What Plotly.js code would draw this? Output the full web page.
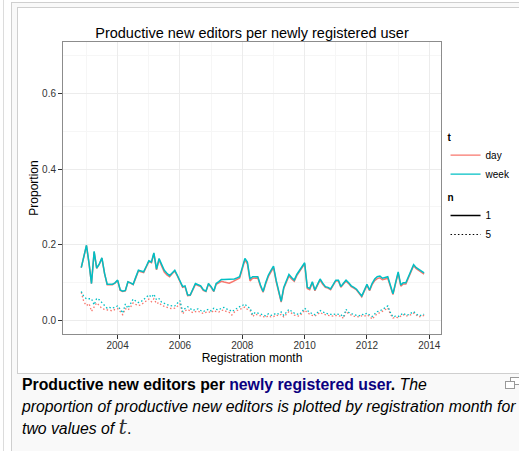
<!DOCTYPE html>
<html>
<head>
<meta charset="utf-8">
<script src="https://cdn.plot.ly/plotly-3.0.1.min.js"></script>
<style>
  html, body { margin: 0; padding: 0; background: #ffffff; width: 519px; height: 451px; overflow: hidden; }
  #pageline { position: absolute; left: 3px; top: 0; width: 1px; height: 451px; background: #dcdcdc; }
  #thumb { position: absolute; left: 11px; top: 2px; width: 560px; height: 470px; border: 1px solid #cfcfcf; background: #f9f9f9; }
  #imgbox { position: absolute; left: 17px; top: 7px; width: 540px; height: 365px; border: 1px solid #cfcfcf; background: #ffffff; }
  #chart { position: absolute; left: 18px; top: 8px; width: 501px; height: 365px; }
  #caption { position: absolute; left: 22px; top: 374px; font-family: "Liberation Sans", Arial, sans-serif; font-size: 15.8px; line-height: 21.5px; color: #000; white-space: nowrap; }
  #caption b { font-weight: bold; }
  #caption a { color: #0b0080; text-decoration: none; font-weight: bold; }
  #caption i { font-style: italic; }
  .mt { font-family: "DejaVu Serif", "Liberation Serif", serif; font-style: italic; font-size: 21px; color: #333; }
  #mag1 { position: absolute; left: 505px; top: 381px; width: 8px; height: 6px; border: 1px solid #999; background: #fff; }
  #mag2 { position: absolute; left: 510px; top: 377px; width: 12px; height: 6px; border: 1px solid #999; background: #fff; }
</style>
</head>
<body>
<div id="pageline"></div>
<div id="thumb"></div>
<div id="imgbox"></div>
<div id="chart"></div>
<div id="mag2"></div>
<div id="mag1"></div>
<div id="caption"><b>Productive new editors per <a>newly registered user</a>.</b> <i>The</i><br><i>proportion of productive new editors is plotted by registration month for</i><br><i>two values of </i><span class="mt">t</span>.</div>
<script>
// Monthly registration cohorts, Nov 2002 .. Nov 2013 (133 months)
const startYear = 2002, startMonth = 11, nMonths = 133;

const weekN1 = [
  0.140,0.170,
  0.199,0.150,0.098,0.183,0.139,0.150,0.166,0.125,0.096,0.096,0.096,0.100,
  0.107,0.081,0.078,0.080,0.103,0.100,0.096,0.115,0.133,0.131,0.129,0.143,
  0.158,0.155,0.179,0.136,0.164,0.148,0.133,0.125,0.119,0.126,0.133,0.120,
  0.107,0.090,0.092,0.068,0.068,0.083,0.098,0.095,0.092,0.082,0.078,0.098,
  0.090,0.078,0.098,0.103,0.109,0.109,0.109,0.109,0.109,0.110,0.113,0.116,
  0.140,0.164,0.155,0.110,0.116,0.116,0.116,0.094,0.077,0.100,0.120,0.132,
  0.144,0.107,0.080,0.051,0.088,0.105,0.122,0.114,0.107,0.122,0.133,0.143,
  0.153,0.088,0.085,0.103,0.081,0.096,0.110,0.099,0.090,0.088,0.084,0.095,
  0.107,0.107,0.090,0.099,0.107,0.100,0.092,0.088,0.083,0.074,0.065,0.080,
  0.096,0.081,0.098,0.110,0.116,0.118,0.112,0.114,0.116,0.094,0.071,0.100,
  0.129,0.094,0.100,0.100,0.115,0.132,0.148,0.140,0.136,0.131,0.126
];

const dayN1 = [
  0.140,0.169,
  0.198,0.149,0.098,0.181,0.138,0.149,0.165,0.124,0.095,0.095,0.095,0.099,
  0.106,0.080,0.077,0.079,0.102,0.099,0.095,0.113,0.131,0.129,0.127,0.141,
  0.156,0.153,0.177,0.134,0.161,0.144,0.128,0.121,0.116,0.124,0.131,0.118,
  0.105,0.088,0.090,0.066,0.067,0.081,0.096,0.093,0.090,0.080,0.077,0.096,
  0.088,0.077,0.096,0.100,0.104,0.102,0.100,0.099,0.102,0.106,0.110,0.113,
  0.136,0.160,0.150,0.105,0.112,0.113,0.113,0.091,0.075,0.097,0.116,0.128,
  0.140,0.103,0.077,0.049,0.085,0.101,0.118,0.110,0.104,0.119,0.130,0.140,
  0.150,0.085,0.082,0.100,0.079,0.094,0.107,0.096,0.088,0.086,0.082,0.093,
  0.105,0.105,0.088,0.097,0.104,0.098,0.090,0.086,0.081,0.072,0.063,0.078,
  0.093,0.079,0.095,0.106,0.111,0.113,0.108,0.110,0.112,0.091,0.069,0.097,
  0.125,0.091,0.097,0.097,0.112,0.128,0.145,0.137,0.133,0.128,0.123
];

const weekN5 = [
  0.077,0.064,
  0.058,0.057,0.058,0.042,0.059,0.055,0.046,0.040,0.033,0.035,0.033,0.036,
  0.039,0.030,0.020,0.044,0.033,0.045,0.057,0.052,0.048,0.050,0.055,0.062,
  0.068,0.062,0.070,0.055,0.058,0.048,0.046,0.042,0.040,0.039,0.039,0.046,
  0.053,0.024,0.032,0.037,0.032,0.027,0.030,0.031,0.027,0.024,0.028,0.030,
  0.026,0.033,0.030,0.029,0.033,0.035,0.031,0.029,0.024,0.029,0.033,0.037,
  0.040,0.044,0.037,0.033,0.016,0.022,0.020,0.017,0.015,0.013,0.018,0.014,
  0.016,0.020,0.018,0.023,0.014,0.022,0.030,0.025,0.020,0.018,0.016,0.024,
  0.033,0.027,0.022,0.018,0.016,0.022,0.027,0.023,0.020,0.018,0.017,0.016,
  0.018,0.017,0.016,0.010,0.030,0.022,0.018,0.016,0.014,0.013,0.017,0.016,
  0.020,0.016,0.011,0.018,0.024,0.026,0.029,0.034,0.039,0.022,0.010,0.012,
  0.011,0.016,0.020,0.015,0.016,0.020,0.024,0.018,0.013,0.015,0.017
];

const dayN5 = [
  0.075,0.050,
  0.040,0.045,0.025,0.035,0.047,0.040,0.032,0.030,0.028,0.027,0.026,0.030,
  0.032,0.024,0.016,0.032,0.028,0.036,0.047,0.043,0.040,0.042,0.046,0.052,
  0.057,0.050,0.058,0.045,0.048,0.040,0.038,0.035,0.033,0.032,0.033,0.038,
  0.044,0.018,0.026,0.030,0.026,0.021,0.024,0.025,0.022,0.019,0.022,0.024,
  0.021,0.027,0.024,0.023,0.027,0.028,0.024,0.022,0.015,0.023,0.027,0.030,
  0.032,0.036,0.030,0.027,0.011,0.017,0.015,0.013,0.011,0.009,0.013,0.010,
  0.011,0.015,0.013,0.017,0.010,0.016,0.024,0.020,0.015,0.013,0.012,0.019,
  0.028,0.022,0.017,0.014,0.012,0.017,0.022,0.018,0.015,0.014,0.013,0.012,
  0.014,0.013,0.012,0.006,0.025,0.018,0.014,0.012,0.011,0.010,0.013,0.012,
  0.015,0.012,0.004,0.013,0.019,0.021,0.024,0.029,0.034,0.018,0.007,0.009,
  0.008,0.012,0.016,0.012,0.013,0.016,0.020,0.014,0.010,0.012,0.014
];

const tLabels = ['day', 'week'];
const nLabels = ['1', '5'];
const yTicks = [0.0, 0.2, 0.4, 0.6];

// month dates (x positions handled by the date axis)
const months = [];
for (let i = 0; i < nMonths; i++) {
  const m0 = startMonth - 1 + i;
  const y = startYear + Math.floor(m0 / 12);
  const m = (m0 % 12) + 1;
  months.push(y + '-' + String(m).padStart(2, '0') + '-01');
}

const RED = '#F8766D', TEAL = '#00BFC4';
const DOT = '1.5px,2.2px';

const traces = [
  {x: months, y: dayN5, mode: 'lines', line: {color: RED, width: 1.3, dash: DOT}, showlegend: false, hoverinfo: 'skip'},
  {x: months, y: dayN1, mode: 'lines', line: {color: RED, width: 1.5}, showlegend: false, hoverinfo: 'skip'},
  {x: months, y: weekN5, mode: 'lines', line: {color: TEAL, width: 1.3, dash: DOT}, showlegend: false, hoverinfo: 'skip'},
  {x: months, y: weekN1, mode: 'lines', line: {color: TEAL, width: 1.5}, showlegend: false, hoverinfo: 'skip'},
  // legend entries
  {x: [null], y: [null], mode: 'lines', name: tLabels[0], line: {color: RED, width: 1.3}, legend: 'legend'},
  {x: [null], y: [null], mode: 'lines', name: tLabels[1], line: {color: TEAL, width: 1.3}, legend: 'legend'},
  {x: [null], y: [null], mode: 'lines', name: nLabels[0], line: {color: '#000', width: 1.3}, legend: 'legend2'},
  {x: [null], y: [null], mode: 'lines', name: nLabels[1], line: {color: '#000', width: 1.1, dash: DOT}, legend: 'legend2'}
];

const FONT = '"Liberation Sans", Arial, Helvetica, sans-serif';

const layout = {
  width: 501, height: 365,
  margin: {l: 45, r: 78, t: 34, b: 39, autoexpand: false},
  paper_bgcolor: '#ffffff', plot_bgcolor: '#ffffff',
  font: {family: FONT, color: '#000'},
  title: {text: 'Productive new editors per newly registered user', font: {size: 14.5, color: '#000'},
          x: 0.5, xref: 'paper', xanchor: 'center', y: 0.932, yanchor: 'middle'},
  xaxis: {
    type: 'date', range: ['2002-04-01', '2014-05-18'],
    tick0: '2004-01-01', dtick: 'M24', tickformat: '%Y',
    ticks: 'outside', ticklen: 4, tickcolor: '#333', tickwidth: 1,
    tickfont: {size: 10, color: '#333'}, ticklabelstandoff: -2,
    showgrid: true, gridcolor: '#ececec', gridwidth: 1,
    minor: {dtick: 'M12', tick0: '2003-01-01', showgrid: true, gridcolor: '#f6f6f6', gridwidth: 1},
    showline: true, linecolor: '#8c8c8c', linewidth: 1, mirror: true,
    zeroline: false, automargin: false,
    title: {text: 'Registration month', font: {size: 12, color: '#000'}, standoff: 1}
  },
  yaxis: {
    range: [-0.035, 0.735],
    tickvals: yTicks, tickformat: '.1f',
    ticks: 'outside', ticklen: 4, tickcolor: '#333', tickwidth: 1,
    tickfont: {size: 10, color: '#333'},
    showgrid: true, gridcolor: '#ececec', gridwidth: 1,
    minor: {dtick: 0.1, tick0: 0.1, showgrid: true, gridcolor: '#f6f6f6', gridwidth: 1},
    showline: true, linecolor: '#8c8c8c', linewidth: 1, mirror: true,
    zeroline: false, automargin: false,
    title: {text: 'Proportion', font: {size: 12, color: '#000'}, standoff: 0}
  },
  legend: {
    title: {text: '<b>t</b>', font: {size: 10}},
    x: 1.012, y: 0.707, xanchor: 'left', yanchor: 'top',
    font: {size: 10, color: '#000'}, bgcolor: 'rgba(0,0,0,0)',
    itemwidth: 30, tracegroupgap: 0
  },
  legend2: {
    title: {text: '<b>n</b>', font: {size: 10}},
    x: 1.012, y: 0.50, xanchor: 'left', yanchor: 'top',
    font: {size: 10, color: '#000'}, bgcolor: 'rgba(0,0,0,0)',
    itemwidth: 30, tracegroupgap: 0
  },
  showlegend: true
};

Plotly.newPlot('chart', traces, layout, {displayModeBar: false, staticPlot: true});
</script>
</body>
</html>
